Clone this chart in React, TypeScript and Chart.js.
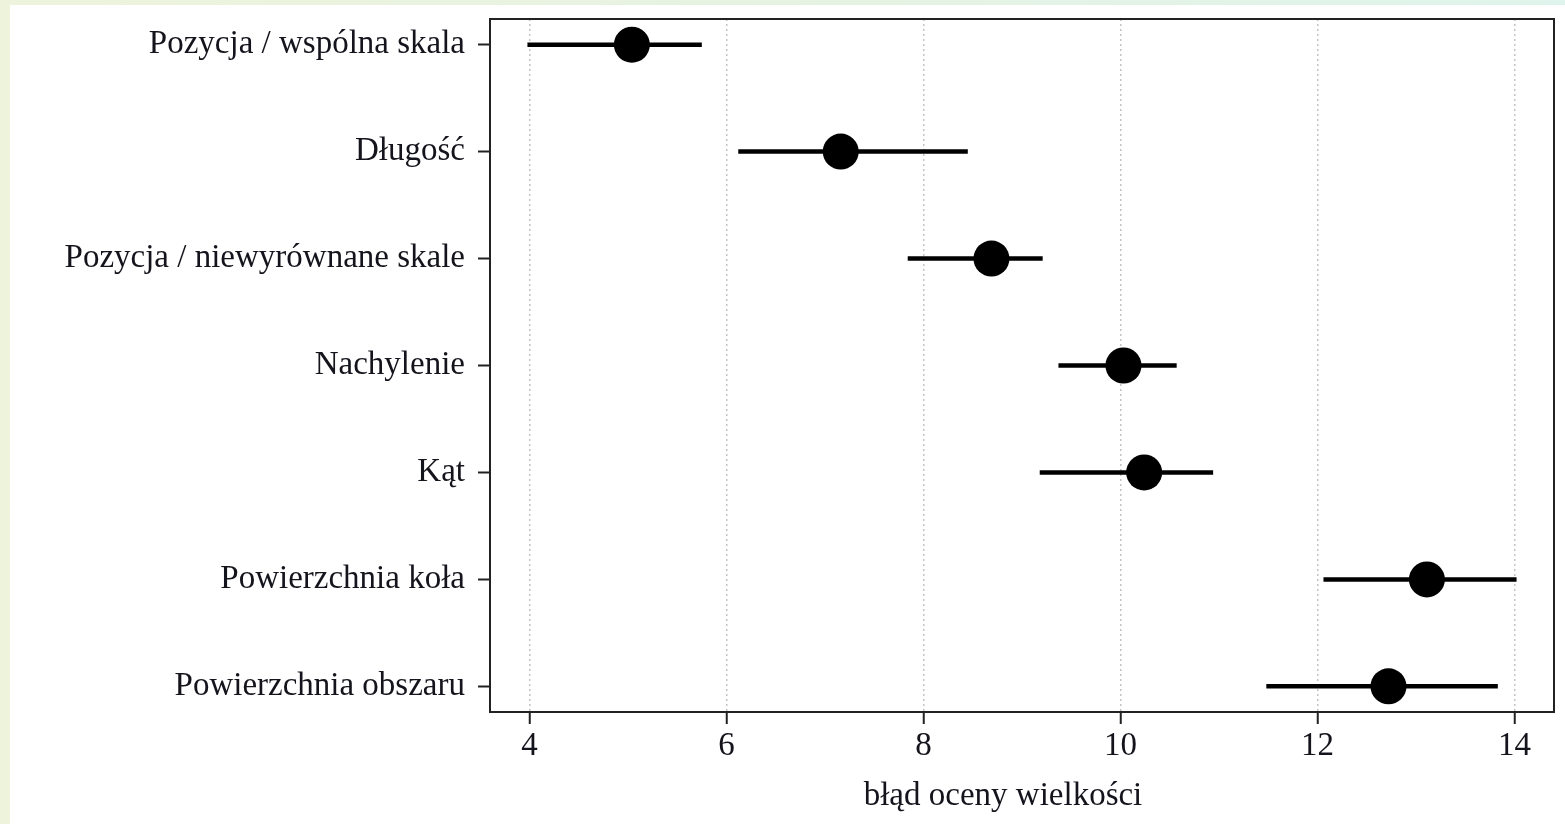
import React, { useEffect, useRef } from "react";
import { Chart, registerables } from "chart.js";

Chart.register(...registerables);

const categories = [
  "Pozycja / wspólna skala",
  "Długość",
  "Pozycja / niewyrównane skale",
  "Nachylenie",
  "Kąt",
  "Powierzchnia koła",
  "Powierzchnia obszaru",
];
const estimates = [5.04, 7.16, 8.69, 10.03, 10.24, 13.11, 12.72];
const lowerBounds = [3.98, 6.12, 7.84, 9.37, 9.18, 12.06, 11.48];
const upperBounds = [5.75, 8.45, 9.21, 10.57, 10.94, 14.02, 13.83];
const xTicks = [4, 6, 8, 10, 12, 14];
const xTitle = "błąd oceny wielkości";

const FONT = "'Liberation Serif', 'DejaVu Serif', serif";
const INK = "#14141c";

const frameBox = {
  id: "frameBox",
  afterDraw(chart: any) {
    const { ctx, chartArea } = chart;
    ctx.save();
    ctx.strokeStyle = "#222";
    ctx.lineWidth = 2;
    ctx.strokeRect(chartArea.left, chartArea.top, chartArea.right - chartArea.left, chartArea.bottom - chartArea.top);
    ctx.restore();
  },
};

export default function App() {
  const ref = useRef<HTMLCanvasElement | null>(null);

  useEffect(() => {
    if (!ref.current) return;
    const intervalSets = categories.map((c, i) => ({
      type: "line" as const,
      label: c,
      data: [
        { x: lowerBounds[i], y: i + 1 },
        { x: upperBounds[i], y: i + 1 },
      ],
      borderColor: "#000",
      borderWidth: 4.5,
      pointRadius: 0,
      showLine: true,
      fill: false,
    }));
    const chart = new Chart(ref.current, {
      type: "scatter",
      data: {
        datasets: [
          ...intervalSets,
          {
            type: "scatter" as const,
            label: "estimate",
            data: estimates.map((v, i) => ({ x: v, y: i + 1 })),
            backgroundColor: "#000",
            borderColor: "#000",
            borderWidth: 0,
            pointRadius: 18,
          },
        ] as any,
      },
      options: {
        animation: false,
        responsive: false,
        maintainAspectRatio: false,
        layout: { autoPadding: false, padding: { top: 14, right: 11, left: 0, bottom: 0 } },
        plugins: { legend: { display: false }, tooltip: { enabled: false } },
        scales: {
          x: {
            type: "linear",
            min: 3.6,
            max: 14.4,
            afterBuildTicks: (axis: any) => {
              axis.ticks = xTicks.map((v) => ({ value: v }));
            },
            afterFit: (axis: any) => {
              axis.height = 112;
              axis.paddingLeft = 0;
              axis.paddingRight = 0;
            },
            grid: {
              color: "#c4c4c4",
              lineWidth: 1.5,
              drawTicks: true,
              tickLength: 12,
              tickColor: "#222",
              tickWidth: 2,
              tickBorderDash: [],
            },
            border: { display: true, color: "#222", width: 2, dash: [2, 3] },
            ticks: {
              color: INK,
              font: { family: FONT, size: 33 },
              padding: 3,
              maxRotation: 0,
            },
            title: { display: false },
          },
          y: {
            type: "linear",
            min: 0.76,
            max: 7.24,
            reverse: true,
            afterBuildTicks: (axis: any) => {
              axis.ticks = categories.map((_, i) => ({ value: i + 1 }));
            },
            afterFit: (axis: any) => {
              axis.width = 480;
              axis.paddingTop = 0;
              axis.paddingBottom = 0;
            },
            grid: {
              drawOnChartArea: false,
              drawTicks: true,
              tickLength: 12,
              tickColor: "#222",
              tickWidth: 2,
            },
            border: { display: true, color: "#222", width: 2 },
            ticks: {
              color: INK,
              font: { family: FONT, size: 33 },
              padding: 13,
              callback: (v: any) => categories[Math.round(Number(v)) - 1] ?? "",
            },
          },
        },
      },
      plugins: [frameBox],
    } as any);
    return () => chart.destroy();
  }, []);

  return (
    <div
      style={{
        position: "fixed",
        left: 0,
        top: 0,
        width: 1565,
        height: 824,
        background: "linear-gradient(90deg, #eef3dc 0%, #e6f3e2 50%, #dff4ec 100%)",
      }}
    >
      <div style={{ position: "absolute", left: 10, top: 5, width: 1555, height: 819, background: "#fff" }}>
        <canvas ref={ref} width={1555} height={819} style={{ display: "block" }} />
      </div>
      <div
        style={{
          position: "absolute",
          left: 1003,
          top: 775,
          transform: "translateX(-50%)",
          whiteSpace: "nowrap",
          fontFamily: FONT,
          fontSize: 33,
          lineHeight: "38px",
          color: INK,
        }}
      >
        {xTitle}
      </div>
    </div>
  );
}
